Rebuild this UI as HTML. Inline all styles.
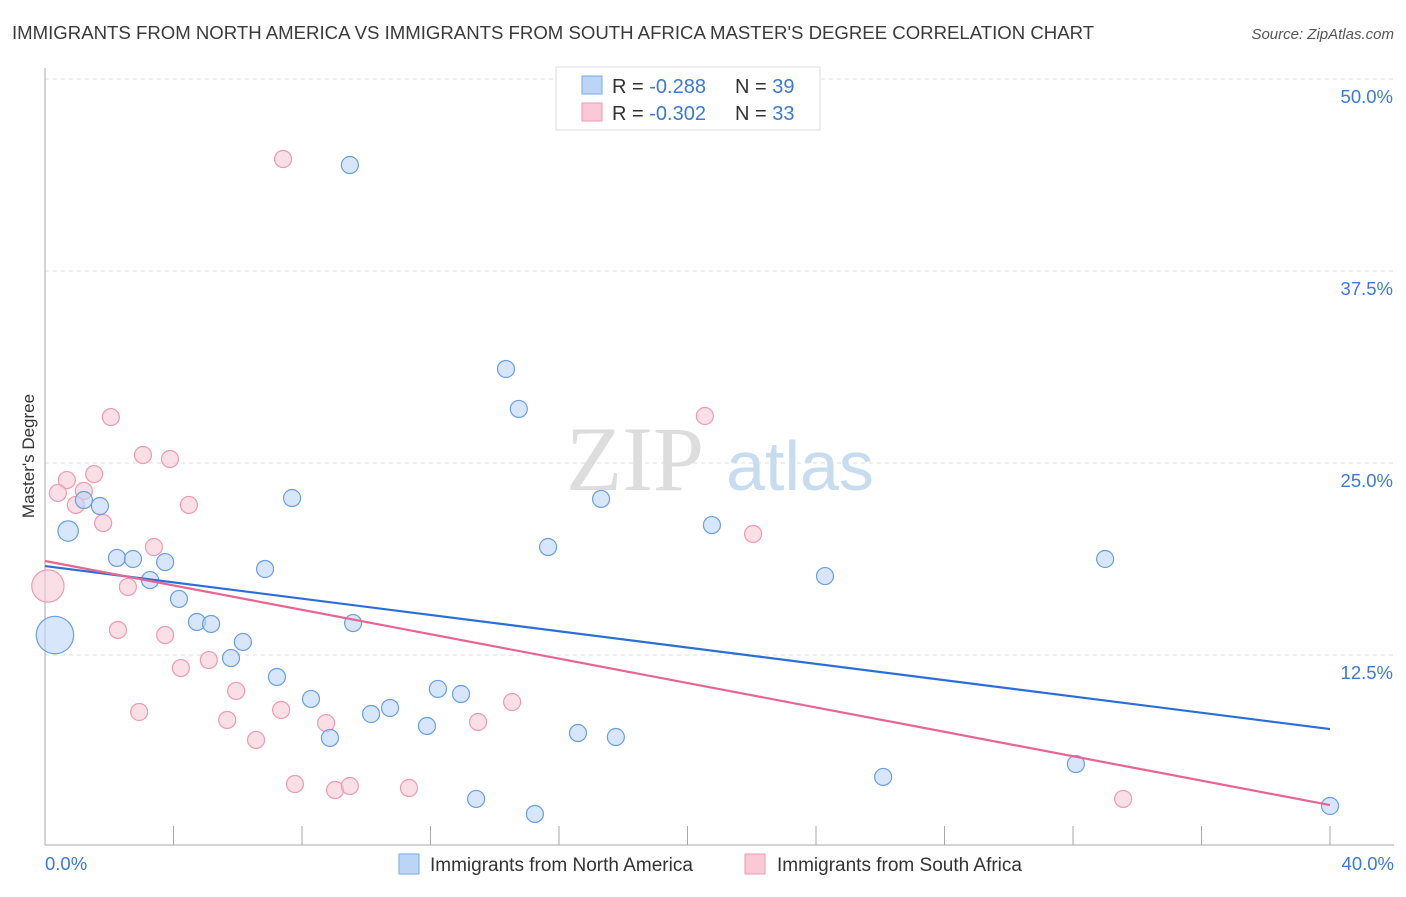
<!DOCTYPE html>
<html><head><meta charset="utf-8"><style>
body{margin:0;background:#fff;font-family:"Liberation Sans",sans-serif;}
</style></head><body>
<svg width="1406" height="892" xmlns="http://www.w3.org/2000/svg" id="chart">
<text x="12" y="39" font-size="18.6" fill="#3a3a3a">IMMIGRANTS FROM NORTH AMERICA VS IMMIGRANTS FROM SOUTH AFRICA MASTER'S DEGREE CORRELATION CHART</text>
<text x="1394" y="39" font-size="15" font-style="italic" fill="#555" text-anchor="end">Source: ZipAtlas.com</text>
<text x="34" y="456" font-size="17" fill="#333" text-anchor="middle" transform="rotate(-90 34 456)">Master's Degree</text>
<g><text x="635" y="490" font-size="92" font-family="Liberation Serif" fill="#ddd" text-anchor="middle">ZIP</text><text x="800" y="490" font-size="70" fill="#c8dcf0" text-anchor="middle">atlas</text></g>
<g id="grid"></g><g id="axes"></g><g id="marks"></g>
<g>
<rect x="556" y="67" width="264" height="63" fill="#fff" stroke="#ddd"/>
<rect x="582" y="76" width="20" height="18" fill="#bcd5f7" stroke="#7aaae6"/>
<text x="612" y="93" font-size="20" fill="#333">R = <tspan fill="#3b78d8">-0.288</tspan></text>
<text x="735" y="93" font-size="20" fill="#333">N = <tspan fill="#3b78d8">39</tspan></text>
<rect x="582" y="103" width="20" height="18" fill="#f9c9d6" stroke="#ee9ab2"/>
<text x="612" y="120" font-size="20" fill="#333">R = <tspan fill="#3b78d8">-0.302</tspan></text>
<text x="735" y="120" font-size="20" fill="#333">N = <tspan fill="#3b78d8">33</tspan></text>
</g>
<g>
<rect x="399" y="854" width="20" height="20" fill="#bcd5f7" stroke="#7aaae6"/>
<text x="430" y="871" font-size="19" fill="#333">Immigrants from North America</text>
<rect x="745" y="854" width="20" height="20" fill="#f9c9d6" stroke="#ee9ab2"/>
<text x="777" y="871" font-size="19" fill="#333">Immigrants from South Africa</text>
</g>
</svg>
<script>
const blueX=[9.49,14.35,14.75,7.69,17.31,20.76,15.66,33.00,24.28,0.72,1.21,1.71,2.24,2.74,3.74,3.27,6.85,4.17,4.73,5.17,9.59,6.16,5.79,7.22,8.28,12.23,12.95,10.74,10.15,11.89,8.87,16.59,17.77,26.09,32.09,13.42,15.25,40.00,0.31];
const blueY=[44.40,31.12,28.52,22.72,22.66,20.96,19.53,18.75,17.64,20.57,22.59,22.20,18.82,18.75,18.55,17.38,18.10,16.15,14.65,14.52,14.58,13.35,12.30,11.07,9.64,10.29,9.96,9.05,8.66,7.88,7.10,7.42,7.16,4.56,5.40,3.13,2.15,2.67,13.80];
const blueS=[1,1,1,1,1,1,1,1,1,1.2,1,1,1,1,1,1,1,1,1,1,1,1,1,1,1,1,1,1,1,1,1,1,1,1,1,1,1,1,2.2];
const pinkX=[7.41,2.05,3.05,3.89,1.53,0.68,0.40,1.21,0.96,4.48,1.81,3.39,2.58,0.09,2.27,3.74,5.10,4.23,5.95,2.93,5.67,7.35,8.75,6.57,7.78,9.03,9.49,11.33,13.48,14.54,20.54,22.04,33.56];
const pinkY=[44.79,27.99,25.52,25.26,24.28,23.89,23.05,23.18,22.27,22.27,21.09,19.53,16.93,16.99,14.13,13.80,12.17,11.65,10.16,8.79,8.27,8.92,8.07,6.97,4.10,3.71,3.97,3.84,8.14,9.44,28.06,20.38,3.13];
const pinkS=[1,1,1,1,1,1,1,1,1,1,1,1,1,1.9,1,1,1,1,1,1,1,1,1,1,1,1,1,1,1,1,1,1,1];
const blueTrend=[18.29,7.68];
const pinkTrend=[18.62,2.73];
const yTicks=[12.5,25.0,37.5,50.0];
const yTickLabels=["12.5%","25.0%","37.5%","50.0%"];
const xTickLabels=["0.0%","40.0%"];
const NS="http://www.w3.org/2000/svg";
const X=v=>45+v/40*1285, Y=v=>847-v/50*768;
function mk(t,a,p){const e=document.createElementNS(NS,t);for(const k in a)e.setAttribute(k,a[k]);document.getElementById(p).appendChild(e);return e;}
yTicks.forEach((t,i)=>{
 const l=mk('line',{x1:45,x2:1394,y1:Y(t),y2:Y(t),stroke:'#ddd','stroke-dasharray':'4 4'},'grid');
 
 
 const tx=mk('text',{x:1393,y:Y(t)+24,'font-size':18.5,fill:'#3b78d8','text-anchor':'end'},'axes');
 tx.textContent=yTickLabels[i];
 
 
});
const ax=mk('line',{x1:45,x2:45,y1:68,y2:845,stroke:'#aaa'},'axes');


const bx=mk('line',{x1:45,x2:1394,y1:845,y2:845,stroke:'#aaa'},'axes');


for(let i=1;i<=10;i++){const t=mk('line',{x1:45+i*128.5,x2:45+i*128.5,y1:826,y2:845,stroke:'#aaa'},'axes');
 
 }
[[0,'start',45],[40,'end',1394]].forEach((d,i)=>{const t=mk('text',{x:d[2],y:870,'font-size':18.5,fill:'#3b78d8','text-anchor':d[1]},'axes');t.textContent=xTickLabels[i];
 
 });
function pts(xs,ys,ss,f,s,n){xs.forEach((x,i)=>{const c=mk('circle',{cx:X(x),cy:Y(ys[i]),r:8.5*ss[i],fill:f,'fill-opacity':0.6,stroke:s,'stroke-width':1.2},'marks');
 
 });}
pts(pinkX,pinkY,pinkS,'#f9c9d6','#ee9ab2','point-south-africa');
pts(blueX,blueY,blueS,'#bcd5f7','#6a9fe0','point-north-america');
const bl=mk('line',{x1:X(0),y1:Y(blueTrend[0]),x2:X(40),y2:Y(blueTrend[1]),stroke:'#2b6fd6','stroke-width':2.2},'marks');


const pl=mk('line',{x1:X(0),y1:Y(pinkTrend[0]),x2:X(40),y2:Y(pinkTrend[1]),stroke:'#e8658f','stroke-width':2.2},'marks');


</script>
</body></html>
